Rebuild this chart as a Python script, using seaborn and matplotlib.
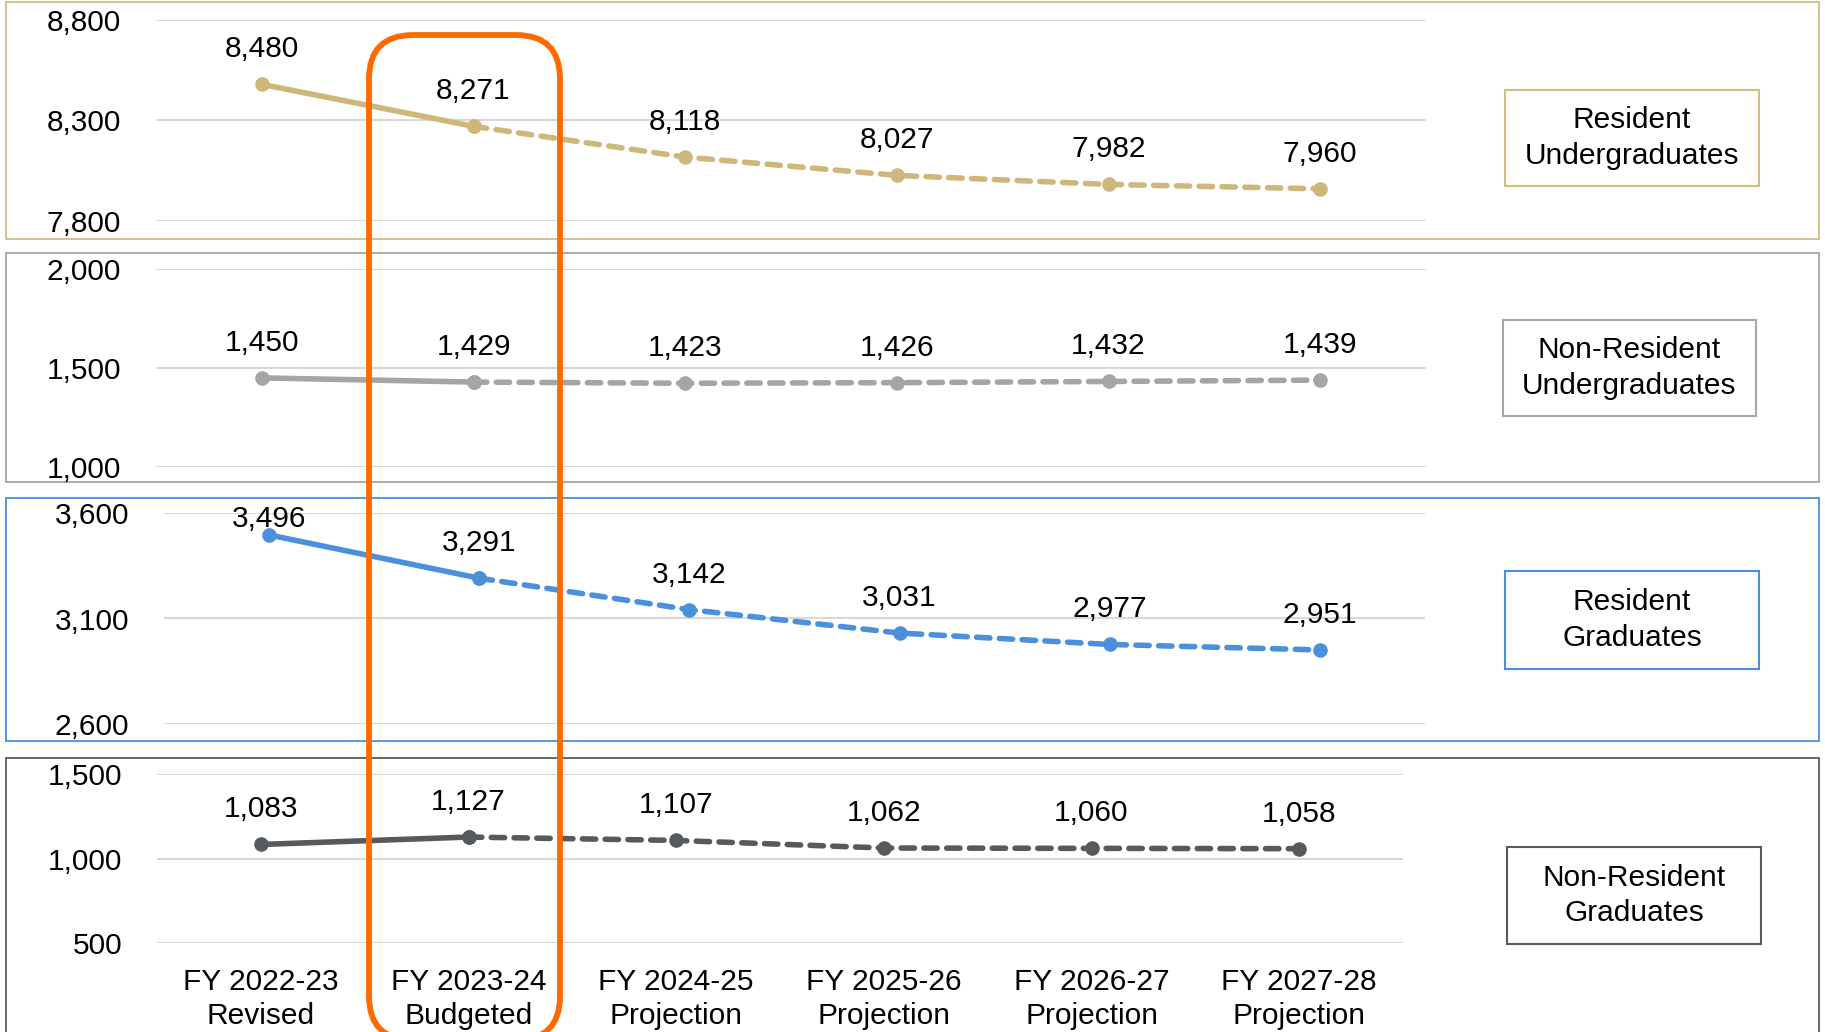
import matplotlib
matplotlib.use("Agg")
import matplotlib.pyplot as plt
import seaborn as sns
from matplotlib.patches import Rectangle, FancyBboxPatch

# Data
years = ["FY 2022-23\nRevised", "FY 2023-24\nBudgeted", "FY 2024-25\nProjection",
         "FY 2025-26\nProjection", "FY 2026-27\nProjection", "FY 2027-28\nProjection"]
resident_ug = [8480, 8271, 8118, 8027, 7982, 7960]
nonresident_ug = [1450, 1429, 1423, 1426, 1432, 1439]
resident_grad = [3496, 3291, 3142, 3031, 2977, 2951]
nonresident_grad = [1083, 1127, 1107, 1062, 1060, 1058]

panel_names = ["Resident\nUndergraduates", "Non-Resident\nUndergraduates",
               "Resident\nGraduates", "Non-Resident\nGraduates"]
panel_values = [resident_ug, nonresident_ug, resident_grad, nonresident_grad]
panel_ticks = [[7800, 8300, 8800], [1000, 1500, 2000], [2600, 3100, 3600], [500, 1000, 1500]]

sns.set_theme(style="white")
plt.rcParams["font.family"] = ["Liberation Sans", "DejaVu Sans"]

FS = 21.5
W, H = 1825, 1032
fig = plt.figure(figsize=(W / 100, H / 100), dpi=100)
fig.patch.set_facecolor("white")

# layout in pixels (from top): axes box, panel border, legend box
axes_px = [(156, 20, 1426, 221), (156, 269, 1426, 467), (164, 513, 1425, 724), (157, 774, 1403, 943)]
border_px = [(6, 2, 1819, 239), (6, 253, 1819, 482), (6, 498, 1819, 741), (6, 758, 1819, 1040)]
legend_px = [(1505, 90, 1759, 186), (1503, 320, 1756, 416), (1505, 571, 1759, 669), (1507, 847, 1761, 944)]
line_colors = ["#CDB77A", "#A5A5A5", "#4A90DC", "#555A5E"]
border_colors = ["#D2BD86", "#A6A6A6", "#4A90DC", "#5A5A5A"]


def fig_rect(x0, y0, x1, y1):
    return x0 / W, 1 - y1 / H, (x1 - x0) / W, (y1 - y0) / H


idx = list(range(len(years)))
for i, vals in enumerate(panel_values):
    ax = fig.add_axes(fig_rect(*axes_px[i]))
    ax.set_facecolor("none")
    c = line_colors[i]
    # actual (solid) then projected (dashed)
    sns.lineplot(x=idx[:2], y=vals[:2], ax=ax, color=c, lw=4.0, marker="o",
                 markersize=10.5, markeredgewidth=0, solid_capstyle="round")
    sns.lineplot(x=idx[1:], y=vals[1:], ax=ax, color=c, lw=4.0, marker="o",
                 markersize=10.5, markeredgewidth=0, linestyle=(0, (2.4, 1.7)),
                 dash_capstyle="round")
    ticks = panel_ticks[i]
    ax.set_ylim(ticks[0], ticks[-1])
    ax.set_xlim(-0.5, len(years) - 0.5)
    ax.set_yticks(ticks)
    ax.set_yticklabels([f"{t:,}" for t in ticks])
    ax.yaxis.grid(True, color="#D9D9D9", lw=1.5)
    ax.set_axisbelow(True)
    for s in ax.spines.values():
        s.set_visible(False)
    ax.tick_params(axis="y", length=0, pad=25, labelsize=FS, labelcolor="black")
    ax.set_xticks(idx)
    if i == 3:
        ax.set_xticklabels(years, linespacing=1.25)
        ax.tick_params(axis="x", length=0, pad=18, labelsize=FS, labelcolor="black")
    else:
        ax.set_xticklabels([])
        ax.tick_params(axis="x", length=0)
    ax.set_xlabel("")
    ax.set_ylabel("")

    # data labels above points, kept inside the panel border
    panel_top = border_px[i][1]
    for x, v in zip(idx, vals):
        py = H - ax.transData.transform((x, v))[1]
        off = min(35, py - (panel_top + 21))
        ax.annotate(f"{v:,}", (x, v), xytext=(0, off * 0.72), textcoords="offset points",
                    ha="center", va="center", fontsize=FS, color="black",
                    annotation_clip=False)

    # panel border
    bx0, by0, bx1, by1 = border_px[i]
    fig.patches.append(Rectangle((bx0 / W, 1 - by1 / H), (bx1 - bx0) / W, (by1 - by0) / H,
                                 transform=fig.transFigure, fill=False,
                                 edgecolor=border_colors[i], lw=1.3, zorder=-1))
    # legend-like box
    lx0, ly0, lx1, ly1 = legend_px[i]
    fig.patches.append(Rectangle((lx0 / W, 1 - ly1 / H), (lx1 - lx0) / W, (ly1 - ly0) / H,
                                 transform=fig.transFigure, fill=False,
                                 edgecolor=border_colors[i], lw=1.5, zorder=2))
    fig.text((lx0 + lx1) / 2 / W, 1 - (ly0 + ly1) / 2 / H, panel_names[i],
             ha="center", va="center", fontsize=FS, color="black", linespacing=1.35)

# highlight for the budgeted year
ox0, oy0, ox1, oy1 = 369, 35, 560, 1040
fig.patches.append(FancyBboxPatch((ox0, H - oy1), ox1 - ox0, oy1 - oy0,
                                  boxstyle="round,pad=0,rounding_size=44",
                                  transform=None, fill=False, edgecolor="#FF6A00",
                                  lw=4.2, zorder=10))

fig.savefig("out.png", dpi=100, facecolor="white")
